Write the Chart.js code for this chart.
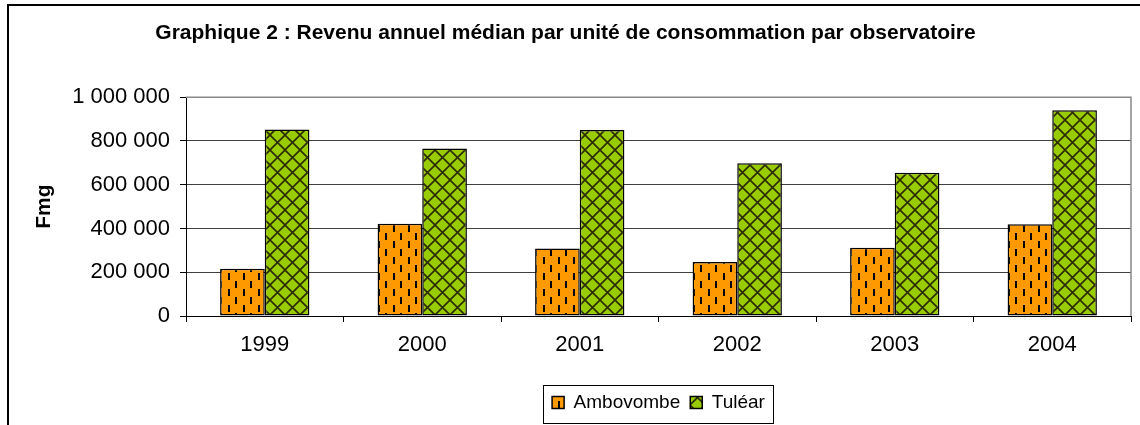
<!DOCTYPE html>
<html>
<head>
<meta charset="utf-8">
<script src="https://cdn.jsdelivr.net/npm/chart.js@4"></script>
<style>
  body { margin: 0; background: #fff; }
  #wrap { width: 1140px; height: 425px; }
</style>
</head>
<body>
<div id="wrap"><canvas id="graph"></canvas></div>
<script>
// data
const years = ["1999", "2000", "2001", "2002", "2003", "2004"];
const ambovombe = [216000, 422000, 309000, 247000, 312000, 419000];
const tulear = [852000, 765000, 850000, 698000, 655000, 940000];
const yMax = 1000000;
const yStep = 200000;

const family = "Arial, 'Liberation Sans', sans-serif";

// orange with short black vertical dashes
function dashPattern() {
  let c = document.createElement("canvas");
  c.width = 15;
  c.height = 16;
  let g = c.getContext("2d");
  g.fillStyle = "#FF9900";
  g.fillRect(0, 0, 15, 16);
  g.fillStyle = "#000";
  g.fillRect(3, 1, 2, 7);
  g.fillRect(10, 9, 2, 7);
  return g.createPattern(c, "repeat");
}

// green with dark diagonal cross hatch
function gridPattern() {
  let c = document.createElement("canvas");
  c.width = 15;
  c.height = 15;
  let g = c.getContext("2d");
  g.fillStyle = "#99CC00";
  g.fillRect(0, 0, 15, 15);
  g.strokeStyle = "#2b2b00";
  g.lineWidth = 1.6;
  g.beginPath();
  g.moveTo(-1, -1); g.lineTo(16, 16);
  g.moveTo(16, -1); g.lineTo(-1, 16);
  g.stroke();
  return g.createPattern(c, "repeat");
}

function spaced(v) {
  return String(v).replace(/\B(?=(\d{3})+(?!\d))/g, " ");
}

const frames = {
  id: "frames",
  beforeDraw(chart) {
    let c = chart.ctx;
    c.save();
    c.fillStyle = "#fff";
    c.fillRect(0, 0, chart.width, chart.height);
    c.strokeStyle = "#000";
    c.lineWidth = 2;
    c.strokeRect(8, 5, chart.width + 40, chart.height + 40);
    c.restore();

    // centre the legend under the plot area, like the original
    let lg = chart.legend;
    let a = chart.chartArea;
    let off = (a.left + a.right) / 2 - (lg.left + lg.right) / 2;
    lg.left += off;
    lg.right += off;
    (lg.legendHitBoxes || []).forEach(h => { h.left += off; });
  },
  afterDatasetsDraw(chart) {
    let a = chart.chartArea;
    let c = chart.ctx;
    c.save();
    c.strokeStyle = "#888";
    c.lineWidth = 1.5;
    c.beginPath();
    c.moveTo(a.left, a.top);
    c.lineTo(a.right, a.top);
    c.lineTo(a.right, a.bottom);
    c.stroke();
    c.restore();
  },
  afterDraw(chart) {
    let hb = chart.legend.legendHitBoxes;
    if (!hb || !hb.length) return;
    let left = Math.min(...hb.map(h => h.left)) - 9;
    let right = Math.max(...hb.map(h => h.left + h.width)) + 8;
    let top = hb[0].top - 8;
    let bottom = hb[0].top + hb[0].height + 11;
    let c = chart.ctx;
    c.save();
    c.strokeStyle = "#000";
    c.lineWidth = 1;
    c.strokeRect(Math.round(left) + 0.5, Math.round(top) + 0.5, Math.round(right - left), Math.round(bottom - top));
    c.restore();
  }
};

let graph = document.getElementById("graph").getContext("2d");
let revenuChart = new Chart(graph, {
  type: "bar",
  data: {
    labels: years,
    datasets: [
      {
        label: "Ambovombe",
        data: ambovombe,
        backgroundColor: dashPattern(),
        borderColor: "#000",
        borderWidth: 1.5,
        borderSkipped: false,
        categoryPercentage: 0.567,
        barPercentage: 1.0,
      },
      {
        label: "Tuléar",
        data: tulear,
        backgroundColor: gridPattern(),
        borderColor: "#000",
        borderWidth: 1.5,
        borderSkipped: false,
        categoryPercentage: 0.567,
        barPercentage: 1.0,
      },
    ],
  },
  options: {
    responsive: true,
    maintainAspectRatio: false,
    animation: false,
    layout: { padding: { left: 0, right: 9, top: 0, bottom: 3 } },
    plugins: {
      title: {
        display: true,
        text: "Graphique 2 : Revenu annuel médian par unité de consommation par observatoire",
        font: { family: family, size: 21, weight: "bold" },
        color: "#000",
        padding: { top: 21, bottom: 51 },
      },
      legend: {
        position: "bottom",
        labels: {
          font: { family: family, size: 19 },
          color: "#000",
          boxWidth: 12,
          boxHeight: 12,
          padding: 10,
        },
      },
      tooltip: { enabled: false },
    },
    scales: {
      x: {
        grid: {
          offset: true,
          drawOnChartArea: false,
          drawTicks: true,
          tickLength: 6,
          tickColor: "#000",
        },
        border: { color: "#000", width: 1 },
        ticks: {
          font: { family: family, size: 22 },
          color: "#000",
          padding: 10,
          maxRotation: 0,
        },
        afterFit: (s) => { s.height = 67; },
      },
      y: {
        min: 0,
        max: yMax,
        ticks: {
          stepSize: yStep,
          font: { family: family, size: 22 },
          color: "#000",
          padding: 10,
          callback: (v) => spaced(v),
        },
        grid: { color: "#404040", lineWidth: 1, tickColor: "#000", tickLength: 6 },
        border: { color: "#000", width: 1 },
        title: {
          display: true,
          text: "Fmg",
          font: { family: family, size: 21, weight: "bold" },
          color: "#000",
          padding: { top: 32, bottom: 0 },
        },
        afterFit: (s) => { s.width = 186; },
      },
    },
  },
  plugins: [frames],
});
</script>
</body>
</html>
